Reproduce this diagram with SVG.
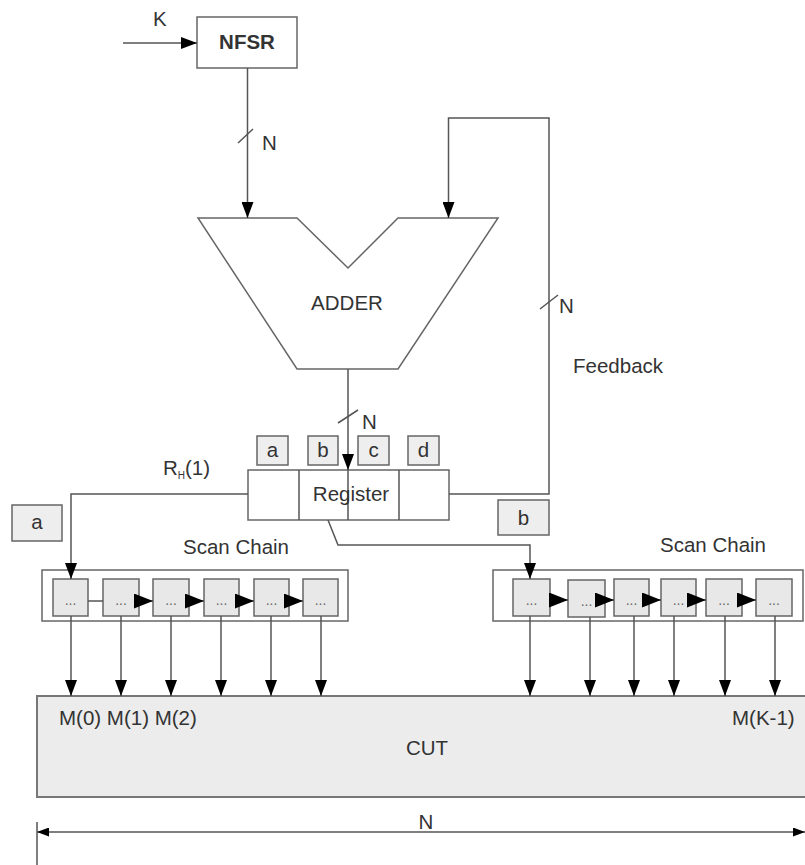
<svg xmlns="http://www.w3.org/2000/svg" width="805" height="865" viewBox="0 0 805 865">
<defs>
<marker id="arr" viewBox="0 0 16 12" markerWidth="16" markerHeight="12" refX="16" refY="6" orient="auto" markerUnits="userSpaceOnUse"><path d="M0,0 L16,6 L0,12 Z" fill="#000"/></marker>
<marker id="arrc" viewBox="0 0 19 15" markerWidth="19" markerHeight="15" refX="19" refY="7.5" orient="auto" markerUnits="userSpaceOnUse"><path d="M0,0 L19,7.5 L0,15 Z" fill="#000"/></marker>
<marker id="arrs" viewBox="0 0 12 9" markerWidth="12" markerHeight="9" refX="12" refY="4.5" orient="auto" markerUnits="userSpaceOnUse"><path d="M0,0 L12,4.5 L0,9 Z" fill="#000"/></marker>
</defs>
<style>
.t{font-family:"Liberation Sans",Arial,sans-serif;font-size:20.5px;fill:#333}
.b{font-weight:bold}
.m{text-anchor:middle}
.box{fill:#fff;stroke:#666;stroke-width:1.5}
.gbox{fill:#eee;stroke:#666;stroke-width:1.5}
.cell{fill:#e8e8e8;stroke:#666;stroke-width:1.5}
.ln{fill:none;stroke:#555;stroke-width:1.5}
.dots{font-family:"Liberation Sans",Arial,sans-serif;font-size:14px;fill:#666;text-anchor:middle}
</style>
<rect width="805" height="865" fill="#fff"/>

<g id="nfsr"><rect class="box" x="197" y="17" width="100" height="51"/><text class="t b m" x="247" y="49">NFSR</text></g>

<g id="adder"><path class="box" d="M198,218 L297,218 L348,268 L398,218 L498,218 L398,369 L297,369 Z"/><text class="t m" x="347" y="310">ADDER</text></g>

<g id="regtags">
<rect class="gbox" x="257" y="436" width="31" height="29"/><text class="t m" x="272.5" y="457">a</text>
<rect class="gbox" x="308" y="436" width="30" height="29"/><text class="t m" x="323" y="457">b</text>
<rect class="gbox" x="358" y="436" width="31" height="29"/><text class="t m" x="373.5" y="457">c</text>
<rect class="gbox" x="408" y="436" width="31" height="29"/><text class="t m" x="423.5" y="457">d</text>
</g>

<g id="register"><rect class="box" x="248" y="470" width="201" height="50"/><path class="ln" d="M299,470 V520 M348,470 V520 M399,470 V520"/><text class="t m" x="351" y="501">Register</text></g>

<g id="tag-a"><rect class="gbox" x="12" y="505" width="50" height="36"/><text class="t m" x="37" y="529">a</text></g>
<g id="tag-b"><rect class="gbox" x="498" y="500" width="51" height="35"/><text class="t m" x="523.5" y="525">b</text></g>

<g id="scan-left">
<rect class="box" x="42" y="570" width="306" height="51"/>
<rect class="cell" x="53" y="579" width="35" height="37"/><text class="dots" x="70.5" y="605">...</text>
<rect class="cell" x="103" y="579" width="36" height="37"/><text class="dots" x="121" y="605">...</text>
<rect class="cell" x="153" y="579" width="36" height="37"/><text class="dots" x="171" y="605">...</text>
<rect class="cell" x="204" y="579" width="35" height="37"/><text class="dots" x="221.5" y="605">...</text>
<rect class="cell" x="254" y="579" width="35" height="37"/><text class="dots" x="271.5" y="605">...</text>
<rect class="cell" x="303" y="579" width="35" height="37"/><text class="dots" x="320.5" y="605">...</text>
</g>

<g id="scan-right">
<rect class="box" x="493" y="570" width="310" height="51"/>
<rect class="cell" x="513" y="579" width="37" height="37"/><text class="dots" x="531.5" y="605">...</text>
<rect class="cell" x="568" y="580" width="37" height="37"/><text class="dots" x="586.5" y="606">...</text>
<rect class="cell" x="614" y="579" width="35" height="37"/><text class="dots" x="631.5" y="605">...</text>
<rect class="cell" x="661" y="579" width="35" height="37"/><text class="dots" x="678.5" y="605">...</text>
<rect class="cell" x="706" y="579" width="36" height="37"/><text class="dots" x="724" y="605">...</text>
<rect class="cell" x="756" y="579" width="36" height="37"/><text class="dots" x="774" y="605">...</text>
</g>

<g id="cut"><rect x="37" y="696" width="772" height="101" fill="#ececec" stroke="#777" stroke-width="2"/>
<text class="t" x="59" y="725">M(0) M(1) M(2)</text>
<text class="t" x="732" y="725">M(K-1)</text>
<text class="t m" x="427" y="755">CUT</text></g>

<g id="connectors">
<path class="ln" d="M123,43 H197" marker-end="url(#arr)"/>
<path class="ln" d="M247.5,68 V218" marker-end="url(#arr)"/>
<path class="ln" d="M449,494 H549 V118 H448.5 V218" marker-end="url(#arr)"/>
<path class="ln" d="M348,369 V470" marker-end="url(#arr)"/>
<path class="ln" d="M248,494 H71 V579" marker-end="url(#arr)"/>
<path class="ln" d="M328,520 L338,545 H530 V579" marker-end="url(#arr)"/>
<path class="ln" d="M238,143 L253,129 M540,309 L558,295 M338,423 L358,410"/>
<path class="ln" d="M88,601 H103"/>
<path class="ln" d="M139,601 H153" marker-end="url(#arrc)"/>
<path class="ln" d="M189,601 H204" marker-end="url(#arrc)"/>
<path class="ln" d="M239,601 H254" marker-end="url(#arrc)"/>
<path class="ln" d="M289,601 H303" marker-end="url(#arrc)"/>
<path class="ln" d="M550,600 H568" marker-end="url(#arrc)"/>
<path class="ln" d="M605,600 H614" marker-end="url(#arrc)"/>
<path class="ln" d="M649,600 H661" marker-end="url(#arrc)"/>
<path class="ln" d="M696,600 H706" marker-end="url(#arrc)"/>
<path class="ln" d="M742,600 H756" marker-end="url(#arrc)"/>
<path class="ln" d="M71,616 V696" marker-end="url(#arr)"/>
<path class="ln" d="M121,616 V696" marker-end="url(#arr)"/>
<path class="ln" d="M171,616 V696" marker-end="url(#arr)"/>
<path class="ln" d="M221,616 V696" marker-end="url(#arr)"/>
<path class="ln" d="M271,616 V696" marker-end="url(#arr)"/>
<path class="ln" d="M321,616 V696" marker-end="url(#arr)"/>
<path class="ln" d="M530,616 V696" marker-end="url(#arr)"/>
<path class="ln" d="M590,617 V696" marker-end="url(#arr)"/>
<path class="ln" d="M634,616 V696" marker-end="url(#arr)"/>
<path class="ln" d="M674,616 V696" marker-end="url(#arr)"/>
<path class="ln" d="M725,616 V696" marker-end="url(#arr)"/>
<path class="ln" d="M775,616 V696" marker-end="url(#arr)"/>
<path class="ln" d="M426,832 H37" marker-end="url(#arrs)"/>
<path class="ln" d="M426,832 H805" marker-end="url(#arrs)"/>
<path class="ln" d="M37,822 V865"/>
</g>

<g id="labels">
<text class="t" x="153" y="26">K</text>
<text class="t" x="262" y="150">N</text>
<text class="t" x="559" y="313">N</text>
<text class="t" x="573" y="373">Feedback</text>
<text class="t" x="362" y="429">N</text>
<text class="t" x="163" y="475">R<tspan font-size="10" dy="4">H</tspan><tspan dy="-4">(1)</tspan></text>
<text class="t" x="183" y="554">Scan Chain</text>
<text class="t" x="660" y="552">Scan Chain</text>
<text class="t m" x="426" y="829" font-size="28">N</text>
</g>
</svg>
